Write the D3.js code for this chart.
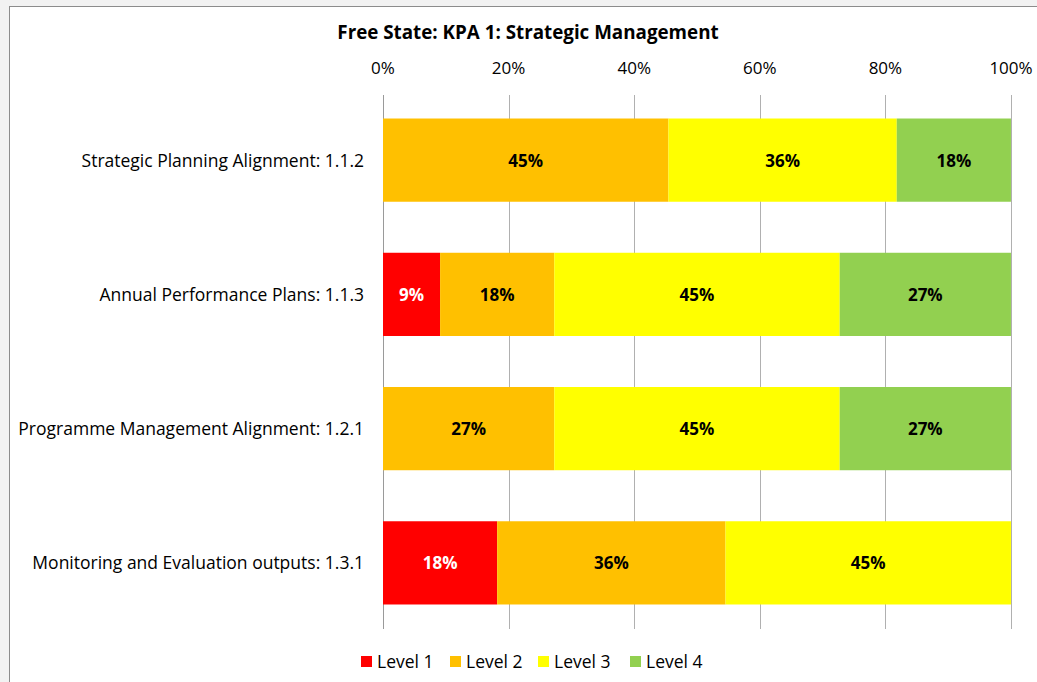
<!DOCTYPE html>
<html>
<head>
<meta charset="utf-8">
<script src="https://cdn.jsdelivr.net/npm/d3@7"></script>
<style>
    body { margin: 0; background: #f2f2f2; }
    svg { display: block; font-family: "Open Sans", "Noto Sans", sans-serif; }
</style>
</head>
<body>
<svg id="chart" width="1037" height="682"></svg>
<script>
// chart data
var title = "Free State: KPA 1: Strategic Management";
var categories = [
    "Strategic Planning Alignment: 1.1.2",
    "Annual Performance Plans: 1.1.3",
    "Programme Management Alignment: 1.2.1",
    "Monitoring and Evaluation outputs: 1.3.1"
];
var levels = ["Level 1", "Level 2", "Level 3", "Level 4"];
var level1 = [0, 9.09, 0, 18.18];
var level2 = [45.45, 18.18, 27.27, 36.36];
var level3 = [36.36, 45.45, 45.45, 45.45];
var level4 = [18.18, 27.27, 27.27, 0];
var tickValues = [0, 20, 40, 60, 80, 100];
var colors = ["#ff0000", "#ffc000", "#ffff00", "#92d050"];

var svg = d3.select("#chart");

// frame
svg.append("rect")
    .attr("x", 9.5).attr("y", 6.5)
    .attr("width", 1040).attr("height", 700)
    .attr("fill", "#fff")
    .attr("stroke", "#8c8c8c");

var rows = categories.map(function(c, i) {
    return { name: c, l1: level1[i], l2: level2[i], l3: level3[i], l4: level4[i] };
});
var keys = ["l1", "l2", "l3", "l4"];
var stacked = d3.stack().keys(keys)(rows);

var x = d3.scaleLinear().domain([0, 100]).range([383, 1011]);
var y = d3.scaleBand().domain(categories).range([93, 630]).paddingInner(0.38).paddingOuter(0.19);

// gridlines
svg.append("g").selectAll("line")
    .data(tickValues)
    .enter().append("line")
    .attr("x1", function(d) { return Math.round(x(d)) + 0.5; })
    .attr("x2", function(d) { return Math.round(x(d)) + 0.5; })
    .attr("y1", 95).attr("y2", 629)
    .attr("stroke", function(d) { return d === 0 ? "#9a9a9a" : "#b0b0b0"; })
    .attr("stroke-width", 1);

// tick labels on top
svg.append("g").selectAll("text")
    .data(tickValues)
    .enter().append("text")
    .attr("x", function(d) { return x(d); })
    .attr("y", 74)
    .attr("text-anchor", "middle")
    .attr("font-size", 17)
    .attr("fill", "#000")
    .text(function(d) { return d + "%"; });

// bars
var series = svg.append("g").selectAll("g")
    .data(stacked)
    .enter().append("g")
    .attr("fill", function(d, i) { return colors[i]; });

series.selectAll("rect")
    .data(function(d) { return d; })
    .enter().append("rect")
    .attr("x", function(d) { return x(d[0]); })
    .attr("y", function(d) { return y(d.data.name); })
    .attr("width", function(d) { return x(d[1]) - x(d[0]); })
    .attr("height", y.bandwidth());

// value labels
series.selectAll("text")
    .data(function(d, i) { return d.map(function(p) { p.level = i; return p; }); })
    .enter().filter(function(d) { return d[1] - d[0] > 0; })
    .append("text")
    .attr("x", function(d) { return (x(d[0]) + x(d[1])) / 2; })
    .attr("y", function(d) { return y(d.data.name) + y.bandwidth() / 2 + 6.5; })
    .attr("text-anchor", "middle")
    .attr("font-size", 17)
    .attr("font-weight", "bold")
    .attr("fill", function(d) { return d.level === 0 ? "#fff" : "#000"; })
    .text(function(d) { return Math.round(d[1] - d[0]) + "%"; });

// category labels
svg.append("g").selectAll("text")
    .data(categories)
    .enter().append("text")
    .attr("x", 364)
    .attr("y", function(d) { return y(d) + y.bandwidth() / 2 + 6.5; })
    .attr("text-anchor", "end")
    .attr("font-size", 17.5)
    .attr("fill", "#000")
    .text(function(d) { return d; });

// title
svg.append("text")
    .attr("x", 528).attr("y", 38.5)
    .attr("text-anchor", "middle")
    .attr("font-size", 18.8)
    .attr("font-weight", "bold")
    .text(title);

// legend
var legendX = [361, 450, 538, 630];
var legend = svg.append("g").selectAll("g")
    .data(levels)
    .enter().append("g")
    .attr("transform", function(d, i) { return "translate(" + legendX[i] + ",656)"; });
legend.append("rect")
    .attr("width", 11).attr("height", 11)
    .attr("fill", function(d, i) { return colors[i]; });
legend.append("text")
    .attr("x", 16).attr("y", 12)
    .attr("font-size", 17.5)
    .text(function(d) { return d; });
</script>
</body>
</html>
